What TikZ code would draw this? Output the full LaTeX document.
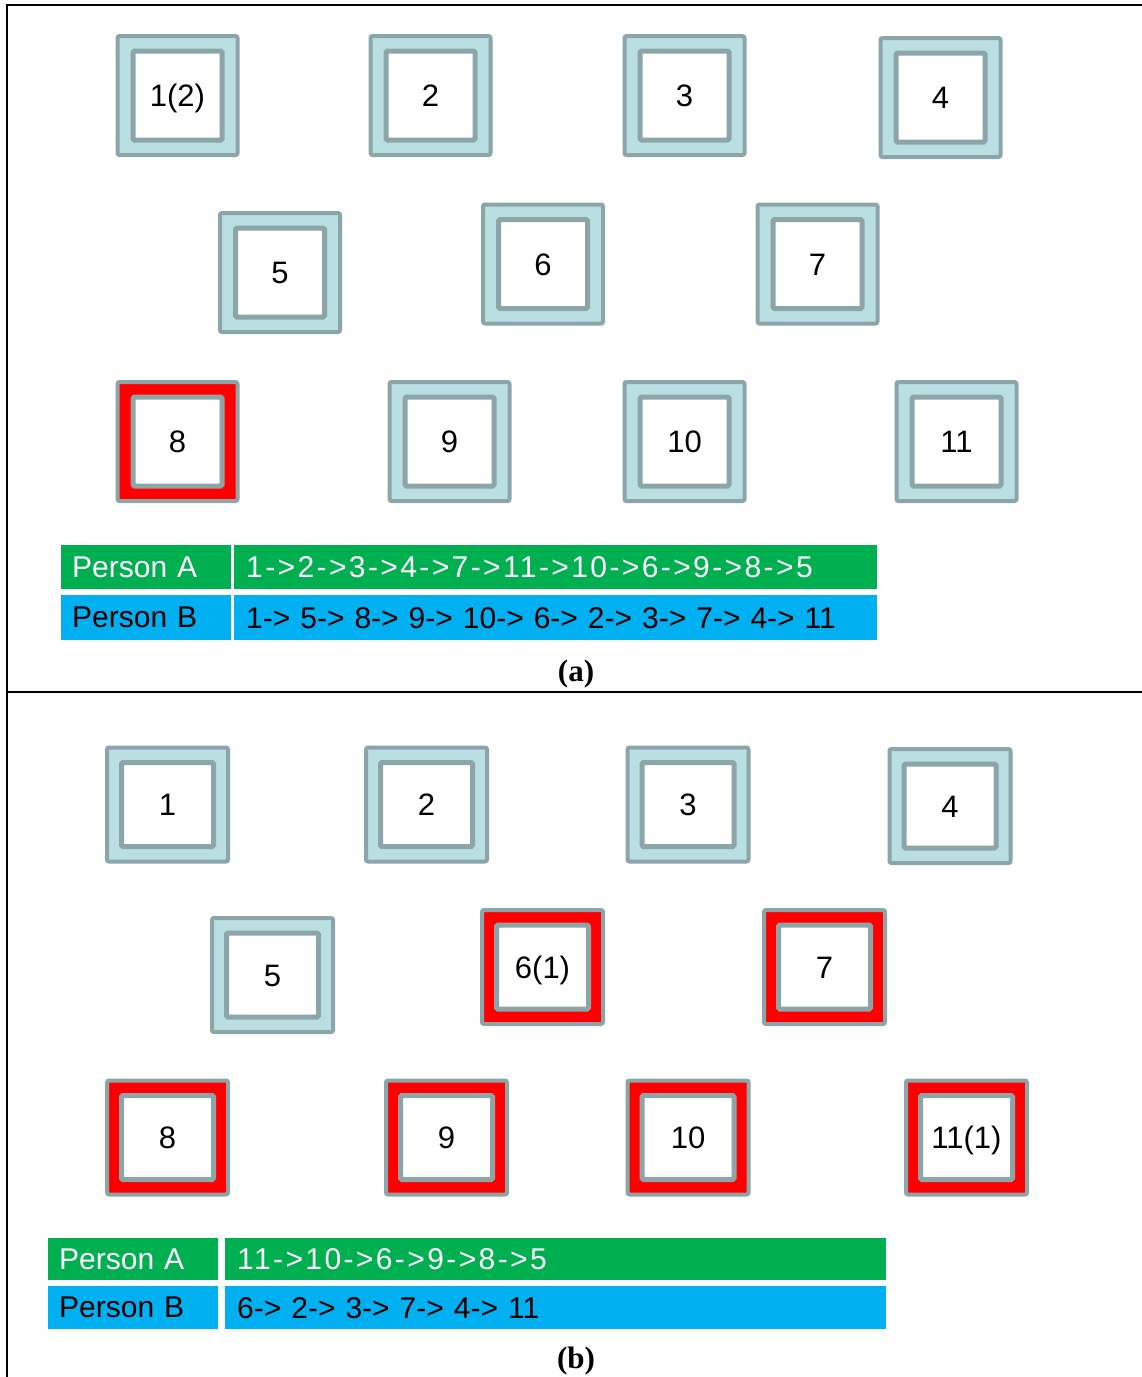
\documentclass[tikz,border=0pt]{standalone}
\usepackage{fontspec}
\usepackage{xcolor}
\usepackage{tikz}
\definecolor{slotgray}{RGB}{139,165,168}
\definecolor{slotblue}{RGB}{185,223,227}
\definecolor{slotred}{RGB}{255,0,0}
\definecolor{rowgreen}{RGB}{0,176,80}
\definecolor{rowblue}{RGB}{0,176,240}
\newfontfamily\slotfont{Liberation Sans}
\newfontfamily\seqfont[LetterSpace=8]{Liberation Sans}
\newfontfamily\seqfontB{Liberation Sans}
\newfontfamily\capfont{Liberation Serif}
\tikzset{
  ring/.style={draw=slotgray,line width=4pt,fill=slotblue,rounded corners=2pt,
    minimum width=120pt,minimum height=119pt,inner sep=0pt},
  hot/.style={ring,fill=slotred},
  cell/.style={draw=slotgray,line width=5pt,fill=white,rounded corners=1.5pt,
    minimum width=89pt,minimum height=89pt,inner sep=0pt,
    text height=22pt,text depth=0pt,
    font=\slotfont\fontsize{31}{31}\selectfont},
  namecell/.style={anchor=north west,inner xsep=11pt,inner ysep=0pt,align=left,
    text width=148pt,font=\slotfont\fontsize{30}{30}\selectfont},
  seqcell/.style={anchor=north west,inner xsep=12pt,inner ysep=0pt,align=left,
    font=\seqfont\fontsize{30}{30}\selectfont},
  tag/.style={font=\capfont\bfseries\fontsize{31}{31}\selectfont}
}
\begin{document}
\begin{tikzpicture}[x=1pt,y=-1pt]
  \useasboundingbox (0,0) rectangle (1142,1377);
  % frames
  \draw[line width=2pt] (7,1377) -- (7,5) -- (1142,5);
  \draw[line width=2pt] (7,692) -- (1142,692);

  % panel (a)
  \node[ring] (a1) at (177.5,95.5) {};
  \node[cell] (a1in) at (177.5,95.5) {1(2)};
  \node[ring] (a2) at (430.5,95.5) {};
  \node[cell] (a2in) at (430.5,95.5) {2};
  \node[ring] (a3) at (684.5,95.5) {};
  \node[cell] (a3in) at (684.5,95.5) {3};
  \node[ring] (a4) at (940.5,97.5) {};
  \node[cell] (a4in) at (940.5,97.5) {4};
  \node[ring] (a5) at (280,272.5) {};
  \node[cell] (a5in) at (280,272.5) {5};
  \node[ring] (a6) at (543,264) {};
  \node[cell] (a6in) at (543,264) {6};
  \node[ring] (a7) at (817.5,264) {};
  \node[cell] (a7in) at (817.5,264) {7};
  \node[hot] (a8) at (177.5,441.5) {};
  \node[cell] (a8in) at (177.5,441.5) {8};
  \node[ring] (a9) at (449.5,441.5) {};
  \node[cell] (a9in) at (449.5,441.5) {9};
  \node[ring] (a10) at (684.5,441.5) {};
  \node[cell] (a10in) at (684.5,441.5) {10};
  \node[ring] (a11) at (956.5,441.5) {};
  \node[cell] (a11in) at (956.5,441.5) {11};

  \node[namecell,fill=rowgreen,text=white,minimum height=44pt] (aA) at (61,545) {Person A};
  \node[seqcell,fill=rowgreen,text=white,minimum height=44pt,text width=619pt] (aAseq) at (234,545) {1->2->3->4->7->11->10->6->9->8->5};
  \node[namecell,fill=rowblue,text=black,minimum height=45pt] (aB) at (61,595) {Person B};
  \node[seqcell,font=\seqfontB\fontsize{30}{30}\selectfont,fill=rowblue,text=black,minimum height=45pt,text width=619pt] (aBseq) at (234,595) {1-> 5-> 8-> 9-> 10-> 6-> 2-> 3-> 7-> 4-> 11};
  \node[tag] (capa) at (576,674) {(a)};

  % panel (b)
  \begin{scope}[ring/.append style={minimum width=121pt,minimum height=114pt},
      cell/.append style={minimum width=92pt,minimum height=84pt}]
  \node[ring] (b1) at (167.5,804.5) {};
  \node[cell] (b1in) at (167.5,804.5) {1};
  \node[ring] (b2) at (426.5,804.5) {};
  \node[cell] (b2in) at (426.5,804.5) {2};
  \node[ring] (b3) at (688,804.5) {};
  \node[cell] (b3in) at (688,804.5) {3};
  \node[ring] (b4) at (950,806) {};
  \node[cell] (b4in) at (950,806) {4};
  \node[ring] (b5) at (272.5,975) {};
  \node[cell] (b5in) at (272.5,975) {5};
  \node[hot] (b6) at (542.5,967) {};
  \node[cell] (b6in) at (542.5,967) {6(1)};
  \node[hot] (b7) at (824.5,967) {};
  \node[cell] (b7in) at (824.5,967) {7};
  \node[hot] (b8) at (167.5,1137.5) {};
  \node[cell] (b8in) at (167.5,1137.5) {8};
  \node[hot] (b9) at (446.5,1137.5) {};
  \node[cell] (b9in) at (446.5,1137.5) {9};
  \node[hot] (b10) at (688,1137.5) {};
  \node[cell] (b10in) at (688,1137.5) {10};
  \node[hot] (b11) at (966.5,1137.5) {};
  \node[cell] (b11in) at (966.5,1137.5) {11(1)};
  \end{scope}

  \node[namecell,fill=rowgreen,text=white,minimum height=42pt] (bA) at (48,1238) {Person A};
  \node[seqcell,fill=rowgreen,text=white,minimum height=42pt,text width=637pt] (bAseq) at (225,1238) {11->10->6->9->8->5};
  \node[namecell,fill=rowblue,text=black,minimum height=43pt] (bB) at (48,1286) {Person B};
  \node[seqcell,font=\seqfontB\fontsize{30}{30}\selectfont,fill=rowblue,text=black,minimum height=43pt,text width=637pt] (bBseq) at (225,1286) {6-> 2-> 3-> 7-> 4-> 11};
  \node[tag] (capb) at (576,1361) {(b)};
\end{tikzpicture}
\end{document}
